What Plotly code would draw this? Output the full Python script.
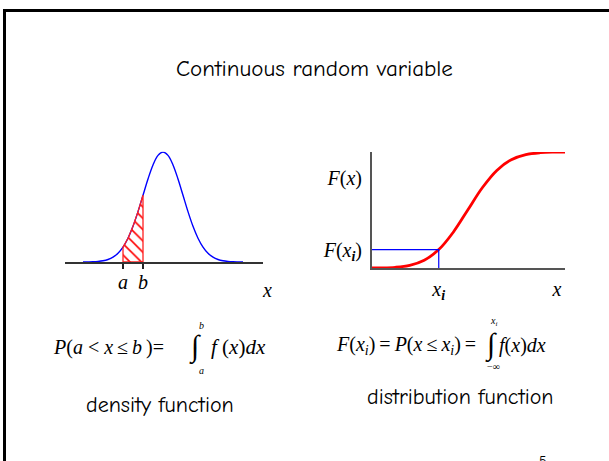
import plotly.graph_objects as go

W, H = 609, 461

# ---- data ----
# standard density curve (left panel), x in units of sigma around the mean
density_x = [-4.0, -3.75, -3.5, -3.25, -3.0, -2.75, -2.5, -2.25, -2.0, -1.75, -1.5, -1.25, -1.0,
             -0.75, -0.5, -0.25, 0.0, 0.25, 0.5, 0.75, 1.0, 1.25, 1.5, 1.75, 2.0, 2.25, 2.5,
             2.75, 3.0, 3.25, 3.5, 3.75, 4.0]
density_y = [0.0001, 0.0004, 0.0009, 0.0020, 0.0044, 0.0091, 0.0175, 0.0317, 0.0540, 0.0863,
             0.1295, 0.1826, 0.2420, 0.3011, 0.3521, 0.3867, 0.3989, 0.3867, 0.3521, 0.3011,
             0.2420, 0.1826, 0.1295, 0.0863, 0.0540, 0.0317, 0.0175, 0.0091, 0.0044, 0.0020,
             0.0009, 0.0004, 0.0001]
interval_a = -2.0
interval_b = -1.0
interval_labels = ["a", "b"]

# distribution function (right panel)
cdf_x = [-3.5, -3.0, -2.5, -2.0, -1.5, -1.0, -0.5, 0.0, 0.5, 1.0, 1.5, 2.0, 2.5, 3.0, 3.5]
cdf_y = [0.0002, 0.0013, 0.0062, 0.0228, 0.0668, 0.1587, 0.3085, 0.5, 0.6915, 0.8413,
         0.9332, 0.9772, 0.9938, 0.9987, 0.9998]
x_i = -1.0
F_x_i = 0.1587
F_x_label_level = 0.78
x_label_pos = 3.07

SERIF = "Liberation Serif, Times New Roman, serif"
COMIC = "Comic Sans MS, Comic Neue, DejaVu Sans, sans-serif"


def px(x):
    return x / W


def py(y):
    return 1 - y / H


fig = go.Figure()

# density curve
fig.add_trace(go.Scatter(x=density_x, y=density_y, mode="lines",
                         line=dict(color="#0000ff", width=1.4, shape="spline"),
                         xaxis="x", yaxis="y", showlegend=False, hoverinfo="skip"))

# hatched area between a and b
seg = [(x, y) for x, y in zip(density_x, density_y) if interval_a <= x <= interval_b]
hx = [interval_a] + [p[0] for p in seg] + [interval_b, interval_a]
hy = [0] + [p[1] for p in seg] + [0, 0]
fig.add_trace(go.Scatter(x=hx, y=hy, mode="lines", fill="toself",
                         fillcolor="rgba(255,255,255,0)",
                         fillpattern=dict(shape="\\", fgcolor="#ff0000", bgcolor="rgba(255,255,255,0)",
                                          fgopacity=1, size=8, solidity=0.2),
                         line=dict(color="#ff2020", width=1.3),
                         xaxis="x", yaxis="y", showlegend=False, hoverinfo="skip"))

# distribution function
fig.add_trace(go.Scatter(x=cdf_x, y=cdf_y, mode="lines",
                         line=dict(color="#ff0000", width=2.8, shape="spline"),
                         xaxis="x2", yaxis="y2", showlegend=False, hoverinfo="skip"))
# guide lines at x_i
fig.add_trace(go.Scatter(x=[-3.3, x_i, x_i], y=[F_x_i, F_x_i, 0], mode="lines",
                         line=dict(color="#0000ff", width=1.2),
                         xaxis="x2", yaxis="y2", showlegend=False, hoverinfo="skip"))

shapes = [dict(type="rect", xref="paper", yref="paper",
               x0=px(4.5), x1=px(640), y0=py(10.5), y1=py(520),
               line=dict(color="black", width=3))]

ann = []


def A(text, x, y, size, font=SERIF, xa="center", color="black"):
    ann.append(dict(text=text, x=px(x), y=py(y), xref="paper", yref="paper",
                    showarrow=False, xanchor=xa, yanchor="middle",
                    font=dict(family=font, size=size, color=color)))


A("Continuous random variable", 314, 68, 23, COMIC)
A("<i>x</i>", 267, 290, 20)
A("density function", 160, 405, 22, COMIC)
A("distribution function", 460, 397, 22, COMIC)
A("5", 543, 461, 14, COMIC)

nb = "\u00a0"
th = "\u2009"
# left formula
A(f"<i>P</i>(<i>a</i>{nb}<{nb}<i>x</i>{th}≤{th}<i>b</i>{th})=", 166, 347, 20, xa="right")
A("∫", 195, 347, 30)
A("<i>b</i>", 201, 325, 10)
A("<i>a</i>", 201, 370, 10)
A(f"<i>f</i>{nb}(<i>x</i>)<i>dx</i>", 209, 347, 21, xa="left")
# right formula
A(f"<i>F</i>(<i>x</i><sub><i>i</i></sub>){th}={th}<i>P</i>(<i>x</i>{th}≤{th}<i>x</i><sub><i>i</i></sub>){th}={th}",
  482, 345, 20, xa="right")
A("∫", 491, 345, 30)
A("<i>x<sub>i</sub></i>", 493, 321, 10)
A("−∞", 493, 366, 10)
A("<i>f</i>(<i>x</i>)<i>dx</i>", 497, 345, 20, xa="left")

fig.update_layout(
    width=W, height=H, margin=dict(l=0, r=0, t=0, b=0),
    paper_bgcolor="white", plot_bgcolor="rgba(0,0,0,0)",
    shapes=shapes, annotations=ann,
    xaxis=dict(domain=[px(65), px(263)], range=[-4.9, 5.0], showgrid=False, zeroline=False,
               showline=True, linecolor="#333333", linewidth=1.5,
               tickmode="array", tickvals=[interval_a, interval_b],
               ticktext=[f"<i>{t}</i>" for t in interval_labels],
               ticks="outside", ticklen=5, tickwidth=1.5, tickcolor="#222222",
               ticklabelstandoff=-4,
               tickfont=dict(family=SERIF, size=20, color="black"), anchor="y"),
    yaxis=dict(domain=[py(262), py(151.7)], range=[0, 0.40], visible=False, anchor="x"),
    xaxis2=dict(domain=[px(372), px(565)], range=[-3.3, 3.35], showgrid=False, zeroline=False,
                showline=True, linecolor="#555555", linewidth=2,
                tickmode="array", tickvals=[x_i, x_label_pos],
                ticktext=["<i>x<sub><b>i</b></sub></i>", "<i>x</i>"], ticks="",
                ticklabelstandoff=2,
                tickfont=dict(family=SERIF, size=20, color="black"), anchor="y2"),
    yaxis2=dict(domain=[py(268), py(152)], range=[0, 1], showgrid=False, zeroline=False,
                showline=True, linecolor="#555555", linewidth=2,
                tickmode="array", tickvals=[F_x_i, F_x_label_level],
                ticktext=["<i>F</i>(<i>x<sub><b>i</b></sub></i>)", "<i>F</i>(<i>x</i>)"], ticks="",
                ticklabelstandoff=4,
                tickfont=dict(family=SERIF, size=20, color="black"), anchor="x2"),
)

fig.write_html("out.html", config={"displayModeBar": False},
               post_script="document.body.style.margin='0';")
